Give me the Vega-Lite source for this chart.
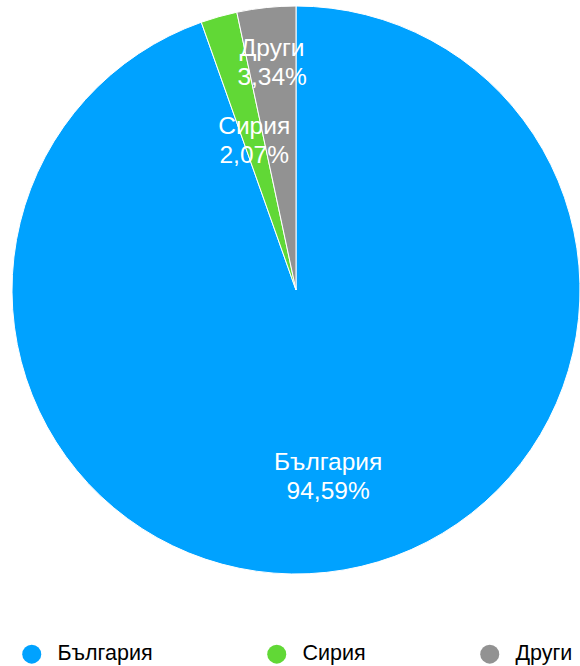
{
  "$schema": "https://vega.github.io/schema/vega-lite/v6.json",
  "autosize": {"type": "none"},
  "padding": {"left": 0, "top": 0, "right": 0, "bottom": 86},
  "width": 592,
  "height": 580,
  "background": "white",
  "config": {
    "view": {"stroke": null},
    "font": "Liberation Sans",
    "locale": {"number": {"decimal": ",", "thousands": " ", "grouping": [3], "currency": ["", " €"]}}
  },
  "data": {
    "values": [
      {"country": "България", "share": 0.9459, "rank": 1},
      {"country": "Сирия", "share": 0.0207, "rank": 2},
      {"country": "Други", "share": 0.0334, "rank": 3}
    ]
  },
  "encoding": {
    "theta": {"field": "share", "type": "quantitative", "stack": true},
    "order": {"field": "rank", "type": "ordinal"}
  },
  "layer": [
    {
      "mark": {"type": "arc", "outerRadius": 284, "stroke": "white", "strokeWidth": 1},
      "encoding": {
        "color": {
          "field": "country",
          "type": "nominal",
          "sort": ["България", "Сирия", "Други"],
          "scale": {"domain": ["България", "Сирия", "Други"], "range": ["#00A2FF", "#61D836", "#929292"]},
          "legend": {
            "title": null,
            "orient": "none",
            "direction": "horizontal",
            "legendX": 21,
            "legendY": 643,
            "padding": 0,
            "symbolType": "circle",
            "symbolSize": 361,
            "symbolStrokeWidth": 0,
            "symbolOpacity": 1,
            "labelFontSize": 21.5,
            "labelColor": "black",
            "labelOffset": 15,
            "columnPadding": 113,
            "labelLimit": 300
          }
        }
      }
    },
    {
      "mark": {
        "type": "text",
        "fontSize": 24.5,
        "fill": "white",
        "align": "center",
        "baseline": "middle",
        "dy": -14.5,
        "radius": {"expr": "datum.country === 'Други' ? 228 : datum.country === 'Сирия' ? 154 : 190"}
      },
      "encoding": {"text": {"field": "country", "type": "nominal"}}
    },
    {
      "mark": {
        "type": "text",
        "fontSize": 24.5,
        "fill": "white",
        "align": "center",
        "baseline": "middle",
        "dy": 14.5,
        "radius": {"expr": "datum.country === 'Други' ? 228 : datum.country === 'Сирия' ? 154 : 190"}
      },
      "encoding": {"text": {"field": "share", "type": "quantitative", "format": ".2%"}}
    }
  ]
}
